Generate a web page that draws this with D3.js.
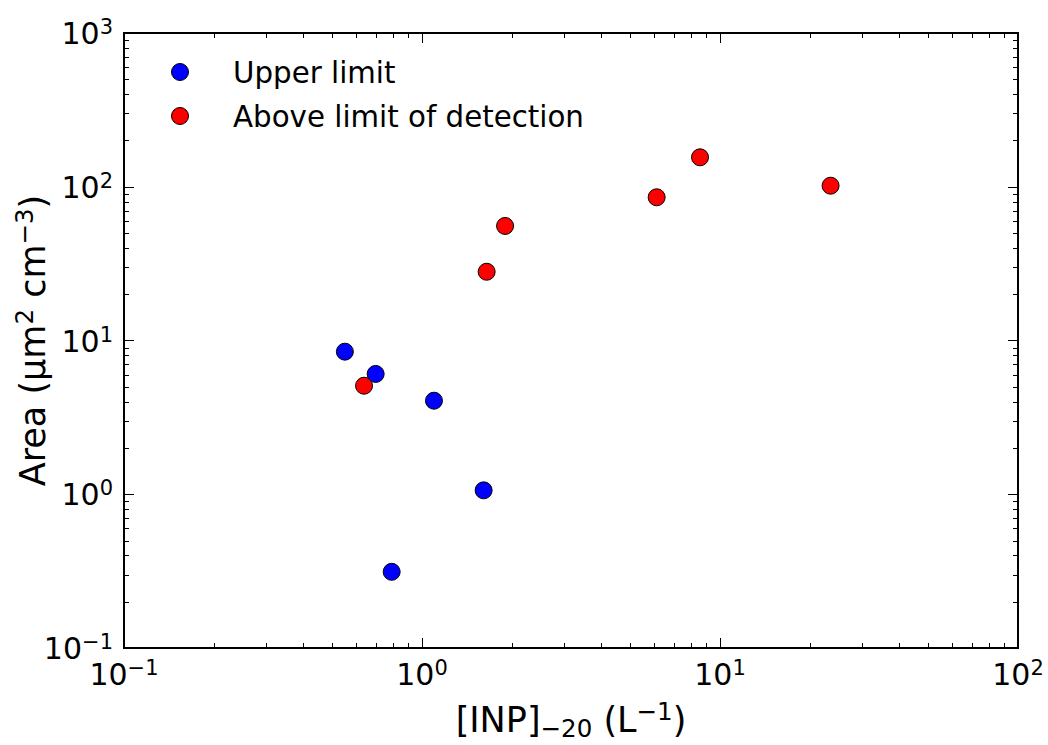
<!DOCTYPE html>
<html>
<head>
<meta charset="utf-8">
<script src="https://cdn.jsdelivr.net/npm/d3@7"></script>
<style>
  body { margin: 0; background: #fff; }
  svg { font-family: "DejaVu Sans", sans-serif; }
</style>
</head>
<body>
<div id="chart"></div>
<script>
// values (INP in L^-1, area in um^2 cm^-3)
const upperX = [0.551, 0.699, 1.097, 1.61, 0.791];
const upperY = [8.46, 6.06, 4.06, 1.06, 0.313];
const aboveX = [0.639, 1.648, 1.90, 6.13, 8.57, 23.5];
const aboveY = [5.08, 28.0, 55.6, 85.4, 155.4, 101.6];

const seriesNames = ["Upper limit", "Above limit of detection"];
const seriesColors = ["#0000ff", "#ff0000"];

const xDecades = [-1, 0, 1, 2];
const yDecades = [-1, 0, 1, 2, 3];

const width = 1048, height = 745;
const margin = {top: 33, right: 30, bottom: 97, left: 124};

const svg = d3.select("#chart").append("svg")
  .attr("width", width).attr("height", height);

const x = d3.scaleLog().domain([0.1, 100]).range([margin.left, width - margin.right]);
const y = d3.scaleLog().domain([0.1, 1000]).range([height - margin.bottom, margin.top]);

const [x0, x1] = x.range();
const [y0, y1] = y.range(); // y0 bottom, y1 top

// minor tick values between decades
function minors(decades) {
  const out = [];
  for (let i = 0; i < decades.length - 1; i++) {
    for (let k = 2; k <= 9; k++) out.push(k * Math.pow(10, decades[i]));
  }
  return out;
}
const majX = xDecades.map(d => Math.pow(10, d));
const majY = yDecades.map(d => Math.pow(10, d));
const minX = minors(xDecades);
const minY = minors(yDecades);

const ticks = svg.append("g").attr("stroke", "#000").attr("stroke-width", 1);
const MAJ = 10, MIN = 5;

// x ticks, bottom and top, pointing inward
[[majX, MAJ], [minX, MIN]].forEach(([vals, len]) => {
  ticks.selectAll(null).data(vals).enter().append("line")
    .attr("x1", d => Math.round(x(d)) + 0.5).attr("x2", d => Math.round(x(d)) + 0.5)
    .attr("y1", y0).attr("y2", y0 - len);
  ticks.selectAll(null).data(vals).enter().append("line")
    .attr("x1", d => Math.round(x(d)) + 0.5).attr("x2", d => Math.round(x(d)) + 0.5)
    .attr("y1", y1).attr("y2", y1 + len);
});
// y ticks, left and right
[[majY, MAJ], [minY, MIN]].forEach(([vals, len]) => {
  ticks.selectAll(null).data(vals).enter().append("line")
    .attr("y1", d => Math.round(y(d)) + 0.5).attr("y2", d => Math.round(y(d)) + 0.5)
    .attr("x1", x0).attr("x2", x0 + len);
  ticks.selectAll(null).data(vals).enter().append("line")
    .attr("y1", d => Math.round(y(d)) + 0.5).attr("y2", d => Math.round(y(d)) + 0.5)
    .attr("x1", x1).attr("x2", x1 - len);
});

// frame
svg.append("rect")
  .attr("x", x0).attr("y", y1)
  .attr("width", x1 - x0).attr("height", y0 - y1)
  .attr("fill", "none").attr("stroke", "#000").attr("stroke-width", 2);

// tick labels like 10^n
const fs = 30;       // tick labels
const legFs = 29.3;  // legend
const labFs = 35;    // axis titles
function powLabel(sel, exp) {
  sel.append("tspan").text("10");
  sel.append("tspan").attr("dy", -10).attr("font-size", fs * 0.7)
    .text(exp < 0 ? "\u2212" + (-exp) : exp);
}

svg.append("g").selectAll("text").data(xDecades).enter().append("text")
  .attr("x", d => x(Math.pow(10, d)))
  .attr("y", y0 + 37)
  .attr("text-anchor", "middle")
  .attr("font-size", fs)
  .each(function(d) { powLabel(d3.select(this), d); });

svg.append("g").selectAll("text").data(yDecades).enter().append("text")
  .attr("x", x0 - 11)
  .attr("y", d => y(Math.pow(10, d)) + 11)
  .attr("text-anchor", "end")
  .attr("font-size", fs)
  .each(function(d) { powLabel(d3.select(this), d); });

// axis titles
const sub = labFs * 0.7;
const xl = svg.append("text")
  .attr("x", (x0 + x1) / 2).attr("y", 732)
  .attr("text-anchor", "middle").attr("font-size", labFs);
xl.append("tspan").text("[INP]");
xl.append("tspan").attr("dy", 5).attr("font-size", sub).text("\u221220");
xl.append("tspan").attr("dy", -5).text(" (L");
xl.append("tspan").attr("dy", -12).attr("font-size", sub).text("\u22121");
xl.append("tspan").attr("dy", 12).text(")");

const yl = svg.append("text")
  .attr("transform", `translate(45,${(y0 + y1) / 2}) rotate(-90)`)
  .attr("text-anchor", "middle").attr("font-size", labFs);
yl.append("tspan").text("Area (\u00b5m");
yl.append("tspan").attr("dy", -12).attr("font-size", sub).text("2");
yl.append("tspan").attr("dy", 12).text(" cm");
yl.append("tspan").attr("dy", -12).attr("font-size", sub).text("\u22123");
yl.append("tspan").attr("dy", 12).text(")");

// points
const R = 8.5;
const upper = upperX.map((v, i) => ({x: v, y: upperY[i]}));
const above = aboveX.map((v, i) => ({x: v, y: aboveY[i]}));

[upper, above].forEach((pts, s) => {
  svg.append("g").selectAll("circle").data(pts).enter().append("circle")
    .attr("cx", d => x(d.x)).attr("cy", d => y(d.y)).attr("r", R)
    .attr("fill", seriesColors[s]).attr("stroke", "#000").attr("stroke-width", 1);
});

// legend
const leg = svg.append("g").selectAll("g").data(seriesNames).enter().append("g")
  .attr("transform", (d, i) => `translate(180,${72 + i * 44})`);
leg.append("circle").attr("r", R)
  .attr("fill", (d, i) => seriesColors[i]).attr("stroke", "#000").attr("stroke-width", 1);
leg.append("text").attr("x", 53).attr("y", 11).attr("font-size", legFs).text(d => d);
</script>
</body>
</html>
